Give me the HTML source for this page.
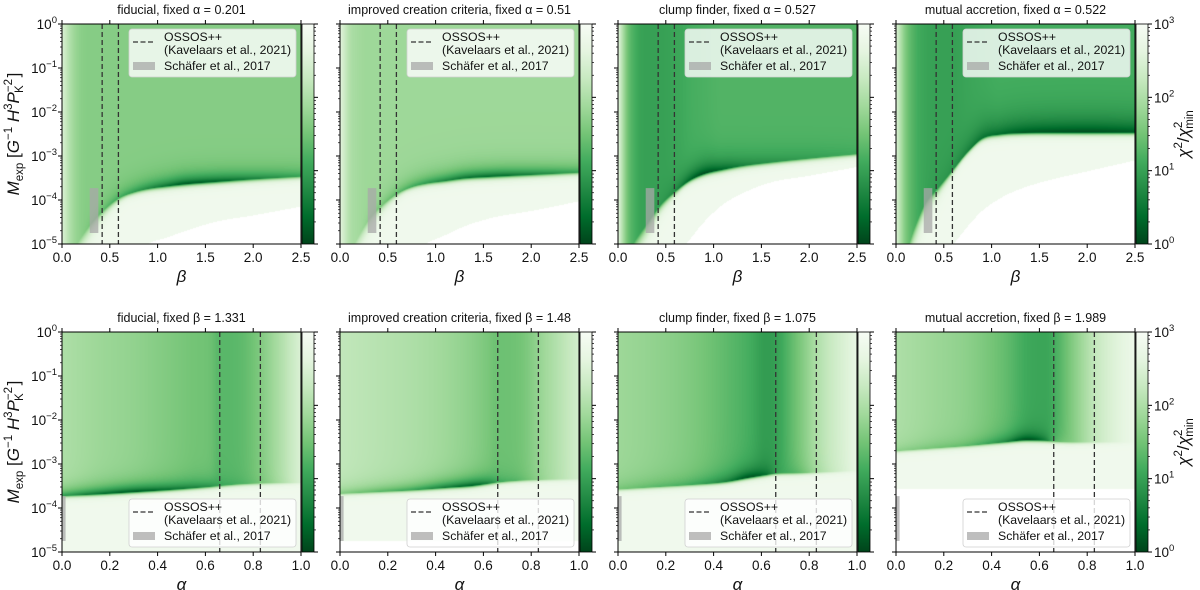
<!DOCTYPE html>
<html><head><meta charset="utf-8"><title>Chi-squared maps of M_exp against beta and alpha</title>
<style>
html,body{margin:0;padding:0;background:#fff;}
#wrap{position:relative;width:1200px;height:590px;overflow:hidden;font-family:"Liberation Sans","DejaVu Sans",sans-serif;}
canvas{position:absolute;}
svg{position:absolute;left:0;top:0;}
</style></head>
<body>
<div id="wrap">
<svg id="svg" width="1200" height="590"></svg>
</div>
<script>
// ---------- data ----------
const topXs = [0, 0.1, 0.2, 0.3, 0.45, 0.6, 0.75, 0.9, 1.1, 1.3, 1.6, 2.0, 2.5];
const botXs = [0, 0.15, 0.3, 0.45, 0.55, 0.62, 0.66, 0.75, 0.85, 1.0];

const titles = ["fiducial, fixed \u03b1 = 0.201","improved creation criteria, fixed \u03b1 = 0.51","clump finder, fixed \u03b1 = 0.527","mutual accretion, fixed \u03b1 = 0.522",
"fiducial, fixed \u03b2 = 1.331","improved creation criteria, fixed \u03b2 = 1.48","clump finder, fixed \u03b2 = 1.075","mutual accretion, fixed \u03b2 = 1.989"];

const boundT1 = [-5.5,-5.2,-4.85,-4.55,-4.2,-3.95,-3.82,-3.74,-3.68,-3.63,-3.58,-3.52,-3.46];
const fillT1  = [2.5,1.95,1.7,1.65,1.65,1.65,1.65,1.65,1.65,1.65,1.65,1.65,1.65];
const dipT1   = [2.5,1.95,1.7,1.5,1.3,1.1,0.9,0.7,0.4,0.15,0.25,0.6,1.0];
const lowT1   = [-5.5,-5.5,-5.5,-5.5,-5.5,-5.5,-5.3,-5.0,-4.85,-4.7,-4.5,-4.35,-4.15];

const boundT2 = [-5.5,-5.2,-4.8,-4.45,-4.1,-3.85,-3.7,-3.62,-3.56,-3.5,-3.46,-3.42,-3.37];
const fillT2  = [2.6,2.05,1.9,1.85,1.85,1.85,1.85,1.85,1.85,1.85,1.85,1.85,1.85];
const dipT2   = [2.6,2.05,1.9,1.7,1.5,1.3,1.1,0.9,0.65,0.45,0.35,0.6,1.0];
const lowT2   = [-5.5,-5.5,-5.5,-5.5,-5.5,-5.5,-5.3,-5.0,-4.8,-4.6,-4.4,-4.25,-4.03];

const boundT3 = [-5.5,-5.2,-4.85,-4.55,-4.1,-3.8,-3.55,-3.4,-3.3,-3.22,-3.14,-3.05,-2.95];
const fillT3  = [2.6,1.5,1.1,1.0,1.0,1.05,1.15,1.2,1.25,1.25,1.25,1.25,1.25];
const dipT3   = [2.6,1.5,1.1,1.0,0.9,0.7,0.3,0.05,0.3,0.6,0.8,0.95,1.1];
const lowT3   = [-5.5,-5.5,-5.5,-5.5,-5.5,-5.3,-4.9,-4.5,-4.1,-3.85,-3.6,-3.45,-3.25];

const boundT4 = [-5.5,-5.2,-4.6,-4.1,-3.7,-3.3,-2.9,-2.6,-2.5,-2.47,-2.46,-2.46,-2.46];
const fillT4  = [2.5,1.6,1.2,1.05,1.0,1.0,1.05,1.1,1.15,1.15,1.15,1.15,1.15];
const dipT4   = [2.5,1.6,1.2,1.0,0.9,0.8,0.6,0.45,0.35,0.2,0.1,0.05,0.15];
const lowT4   = [-5.5,-5.5,-5.5,-5.5,-5.3,-5.0,-4.6,-4.25,-3.95,-3.75,-3.55,-3.35,-3.1];

const boundB1 = [-3.72,-3.68,-3.63,-3.58,-3.54,-3.51,-3.49,-3.45,-3.43,-3.42];
const fillB1  = [2.0,1.85,1.75,1.6,1.5,1.45,1.3,1.35,1.7,2.5];
const dipB1   = [0.9,0.4,0.15,0.4,0.6,0.8,1.0,1.2,1.6,2.5];
const lowB1   = [-5.5,-5.5,-5.5,-5.5,-5.5,-5.5,-5.5,-5.5,-5.5,-5.5];

const boundB2 = [-3.67,-3.63,-3.59,-3.53,-3.49,-3.44,-3.41,-3.37,-3.35,-3.34];
const fillB2  = [2.2,2.1,2.0,1.85,1.7,1.55,1.45,1.5,1.85,2.4];
const dipB2   = [1.6,1.3,1.0,0.5,0.25,0.6,1.0,1.3,1.8,2.4];
const lowB2   = [-4.75,-4.75,-4.75,-4.75,-4.75,-4.75,-4.75,-4.75,-4.75,-4.75];

const boundB3 = [-3.57,-3.52,-3.47,-3.40,-3.3,-3.24,-3.21,-3.2,-3.18,-3.15];
const fillB3  = [1.85,1.75,1.6,1.35,1.15,0.95,1.0,1.5,2.1,2.7];
const dipB3   = [1.5,1.3,1.1,0.6,0.1,0.4,0.9,1.3,2.0,2.7];
const lowB3   = [-5.5,-5.5,-5.5,-5.5,-5.5,-5.5,-5.5,-5.5,-5.5,-5.5];

const boundB4 = [-2.7,-2.64,-2.58,-2.5,-2.45,-2.46,-2.48,-2.5,-2.5,-2.5];
const fillB4  = [2.0,1.85,1.7,1.4,1.1,1.05,1.15,1.7,2.3,2.8];
const dipB4   = [1.7,1.5,1.3,0.7,0.05,0.5,1.2,1.7,2.3,2.8];
const lowB4   = [-3.57,-3.57,-3.57,-3.57,-3.57,-3.57,-3.57,-3.57,-3.57,-3.57];

const ossosBeta = [0.42, 0.59];
const ossosAlpha = [0.66, 0.83];
const schaeferBeta = [0.29, 0.38];
const schaeferAlpha = [0, 0.015];
const schaeferLogM = [-4.75, -3.73];
const topTicks = [0,0.5,1.0,1.5,2.0,2.5];
const botTicks = [0,0.2,0.4,0.6,0.8,1.0];
const yDecades = [0,-1,-2,-3,-4,-5];
const cbDecades = [0,1,2,3];

// ---------- layout ----------
const X0 = [62,340,618,896], AW = 239, AH = 220, TOPS = [24,332];
const panels = [
 {r:0,c:0,xs:topXs,b:boundT1,f:fillT1,d:dipT1,lo:lowT1,w:0.17,xmax:2.5},
 {r:0,c:1,xs:topXs,b:boundT2,f:fillT2,d:dipT2,lo:lowT2,w:0.17,xmax:2.5},
 {r:0,c:2,xs:topXs,b:boundT3,f:fillT3,d:dipT3,lo:lowT3,w:0.22,xmax:2.5},
 {r:0,c:3,xs:topXs,b:boundT4,f:fillT4,d:dipT4,lo:lowT4,w:0.3,xmax:2.5},
 {r:1,c:0,xs:botXs,b:boundB1,f:fillB1,d:dipB1,lo:lowB1,w:0.15,xmax:1},
 {r:1,c:1,xs:botXs,b:boundB2,f:fillB2,d:dipB2,lo:lowB2,w:0.15,xmax:1},
 {r:1,c:2,xs:botXs,b:boundB3,f:fillB3,d:dipB3,lo:lowB3,w:0.18,xmax:1},
 {r:1,c:3,xs:botXs,b:boundB4,f:fillB4,d:dipB4,lo:lowB4,w:0.15,xmax:1}
];
const cmapHex = ['#f7fcf5','#e5f5e0','#c7e9c0','#a1d99b','#74c476','#41ab5d','#238b45','#006d2c','#00441b'];
const cmap = cmapHex.map(h=>[parseInt(h.substr(1,2),16),parseInt(h.substr(3,2),16),parseInt(h.substr(5,2),16)]);
function color(v){
  if(v>=3.02) return [255,255,255];
  let s=Math.max(0,Math.min(1,1-v/3))*8; let i=Math.min(7,Math.floor(s)); let t=s-i;
  return [0,1,2].map(k=>cmap[i][k]+(cmap[i+1][k]-cmap[i][k])*t);
}
// monotone cubic interpolation
function interp(xs,ys,x){
  const n=xs.length;
  if(x<=xs[0]) return ys[0]; if(x>=xs[n-1]) return ys[n-1];
  const dl=[],m=[];
  for(let i=0;i<n-1;i++) dl.push((ys[i+1]-ys[i])/(xs[i+1]-xs[i]));
  m[0]=dl[0]; m[n-1]=dl[n-2];
  for(let i=1;i<n-1;i++) m[i]=(dl[i-1]*dl[i]<=0)?0:(dl[i-1]+dl[i])/2;
  for(let i=0;i<n-1;i++){ if(dl[i]===0){m[i]=0;m[i+1]=0;} else { const a=m[i]/dl[i], b=m[i+1]/dl[i], s=a*a+b*b; if(s>9){const t=3/Math.sqrt(s); m[i]=t*a*dl[i]; m[i+1]=t*b*dl[i];} } }
  let i=0; while(x>xs[i+1]) i++;
  const h=xs[i+1]-xs[i], t=(x-xs[i])/h, t2=t*t, t3=t2*t;
  return (2*t3-3*t2+1)*ys[i]+(t3-2*t2+t)*h*m[i]+(-2*t3+3*t2)*ys[i+1]+(t3-t2)*h*m[i+1];
}
const wrap=document.getElementById('wrap');
const svg=document.getElementById('svg');
panels.forEach((p,idx)=>{
  const cv=document.createElement('canvas');
  
  
  cv.width=AW; cv.height=AH;
  cv.style.left=X0[p.c]+'px'; cv.style.top=TOPS[p.r]+'px';
  wrap.insertBefore(cv,svg);
  const ctx=cv.getContext('2d'); const img=ctx.createImageData(AW,AH);
  for(let px=0;px<AW;px++){
    const x=(px+0.5)/AW*p.xmax;
    const b=interp(p.xs,p.b,x), f=interp(p.xs,p.f,x), d=interp(p.xs,p.d,x), lo=interp(p.xs,p.lo,x);
    const sf = p.r===0 ? Math.max(0.05, 0.5*Math.exp(-x/0.3)) : 0.04;
    for(let py=0;py<AH;py++){
      const L=-(py+0.5)/AH*5; let v;
      if(L>=b) v=f-(f-d)*Math.exp(-(L-b)/p.w);
      else { v=2.85-(2.85-d)*Math.exp(-(b-L)/sf); if(L<lo) v=3.05; }
      const c=color(v); const o=(py*AW+px)*4;
      img.data[o]=c[0];img.data[o+1]=c[1];img.data[o+2]=c[2];img.data[o+3]=255;
    }
  }
  ctx.putImageData(img,0,0);
});

// ---------- overlay ----------
const NS='http://www.w3.org/2000/svg';
function el(tag,attrs,parent,text){const e=document.createElementNS(NS,tag);for(const k in attrs)e.setAttribute(k,attrs[k]);if(text!==undefined)e.textContent=text;(parent||svg).appendChild(e);return e;}
let defs=el('defs',{});
let lg=el('linearGradient',{id:'cbg',x1:0,y1:1,x2:0,y2:0},defs);
cmapHex.slice().reverse().forEach((h,i)=>el('stop',{offset:(i/8),'stop-color':h},lg));

function sup(t,base,exp){ el('tspan',{},t,base); el('tspan',{dy:-6,'font-size':9.5},t,exp); }

panels.forEach((p,idx)=>{
  const g=el('g',{});
  
  
  const x0=X0[p.c], y0=TOPS[p.r];
  const sx=v=>x0+v/p.xmax*AW, sy=L=>y0-L/5*AH;
  const tt=el('text',{x:x0+AW/2,y:y0-10,'text-anchor':'middle','font-size':12.5,fill:'#111'},g,titles[idx]);
  
  
  (p.r===0?ossosBeta:ossosAlpha).forEach(v=>{
    const ln=el('line',{x1:sx(v),x2:sx(v),y1:y0,y2:y0+AH,stroke:'#333','stroke-width':1.3,'stroke-dasharray':'5,3'},g);
    
    
  });
  const sr=(p.r===0?schaeferBeta:schaeferAlpha);
  const rc=el('rect',{x:sx(sr[0]),y:sy(schaeferLogM[1]),width:sx(sr[1])-sx(sr[0]),height:sy(schaeferLogM[0])-sy(schaeferLogM[1]),fill:'#a8a8a8','fill-opacity':0.75},g);
  
  
  el('rect',{x:x0,y:y0,width:AW,height:AH,fill:'none',stroke:'#000','stroke-width':1},g);
  (p.r===0?topTicks:botTicks).forEach(v=>{
    const X=sx(v);
    el('line',{x1:X,x2:X,y1:y0+AH,y2:y0+AH+4,stroke:'#000','stroke-width':1},g);
    el('line',{x1:X,x2:X,y1:y0,y2:y0-4,stroke:'#000','stroke-width':1},g);
    const lb=el('text',{x:X,y:y0+AH+18,'text-anchor':'middle','font-size':13.5,fill:'#111'},g,v.toFixed(1));
    
    
  });
  const xl=el('text',{x:x0+AW/2,y:y0+AH+38,'text-anchor':'middle','font-size':17,'font-style':'italic',fill:'#111'},g,p.r===0?'\u03b2':'\u03b1');
  
  
  yDecades.forEach(L=>{
    const Y=sy(L);
    el('line',{x1:x0-4,x2:x0,y1:Y,y2:Y,stroke:'#000','stroke-width':1},g);
    if(L>-5) for(let m=2;m<10;m++){const Ym=sy(L-1+Math.log10(m)); el('line',{x1:x0-2,x2:x0,y1:Ym,y2:Ym,stroke:'#000','stroke-width':0.7},g);}
    if(p.c===0){const t=el('text',{x:x0-5,y:Y+5,'text-anchor':'end','font-size':13.5,fill:'#111'},g); sup(t,'10',L===0?'0':'\u2212'+(-L));
      
      }
  });
  if(p.c===0){
    const t=el('text',{transform:`translate(${x0-43},${y0+AH/2}) rotate(-90)`,'text-anchor':'middle','font-size':17,fill:'#111'},g);
    
    
    el('tspan',{'font-style':'italic'},t,'M'); el('tspan',{dy:4,'font-size':11.5},t,'exp');
    el('tspan',{dy:-4},t,' [');el('tspan',{'font-style':'italic'},t,'G');el('tspan',{dy:-7,'font-size':11.5},t,'\u22121');
    el('tspan',{dy:7},t,' ');el('tspan',{'font-style':'italic'},t,'H');el('tspan',{dy:-7,'font-size':11.5},t,'3');
    el('tspan',{dy:7,'font-style':'italic'},t,'P');el('tspan',{dy:-7,'font-size':11.5},t,'\u22122');el('tspan',{dx:-14,dy:11,'font-size':11.5},t,'K');
    el('tspan',{dx:8,dy:-4},t,']');
  }
  const cx=x0+AW+1;
  const cb=el('rect',{x:cx,y:y0,width:12,height:AH,fill:'url(#cbg)',stroke:'#000','stroke-width':0.8},g);
  
  
  cbDecades.forEach(D=>{
    const Y=y0+AH-D/3*AH;
    el('line',{x1:cx+12,x2:cx+16,y1:Y,y2:Y,stroke:'#000','stroke-width':1},g);
    if(D<3) for(let m=2;m<10;m++){const Ym=y0+AH-(D+Math.log10(m))/3*AH; el('line',{x1:cx+12,x2:cx+14,y1:Ym,y2:Ym,stroke:'#000','stroke-width':0.7},g);}
    if(p.c===3){const t=el('text',{x:cx+18,y:Y+5,'font-size':13.5,fill:'#111'},g); sup(t,'10',String(D));
      
      }
  });
  if(p.c===3){
    const t=el('text',{transform:`translate(${cx+53},${y0+AH/2}) rotate(-90)`,'text-anchor':'middle','font-size':17,fill:'#111'},g);
    
    
    el('tspan',{'font-style':'italic'},t,'\u03c7');el('tspan',{dy:-7,'font-size':11.5},t,'2');el('tspan',{dy:7},t,'/');
    el('tspan',{'font-style':'italic'},t,'\u03c7');el('tspan',{dy:-7,'font-size':11.5},t,'2');el('tspan',{dx:-7,dy:11,'font-size':11.5},t,'min');
  }
  const lw=167, lh=48;
  const lx=x0+AW-5-lw, ly=p.r===0? y0+5 : y0+AH-5-lh;
  const lgG=el('g',{},g);
  
  
  el('rect',{x:lx,y:ly,width:lw,height:lh,rx:3,fill:'#fff','fill-opacity':0.8,stroke:'#d0d0d0','stroke-width':0.8},lgG);
  el('line',{x1:lx+4,x2:lx+26,y1:ly+13,y2:ly+13,stroke:'#333','stroke-width':1.3,'stroke-dasharray':'5,2.5'},lgG);
  el('text',{x:lx+35,y:ly+12,'font-size':12.3,fill:'#111'},lgG,'OSSOS++');
  el('text',{x:lx+35,y:ly+25,'font-size':12.3,fill:'#111'},lgG,'(Kavelaars et al., 2021)');
  el('rect',{x:lx+4,y:ly+33,width:22,height:8,fill:'#a8a8a8','fill-opacity':0.75},lgG);
  el('text',{x:lx+35,y:ly+41,'font-size':12.3,fill:'#111'},lgG,'Sch\u00e4fer et al., 2017');
});
</script>
</body></html>
